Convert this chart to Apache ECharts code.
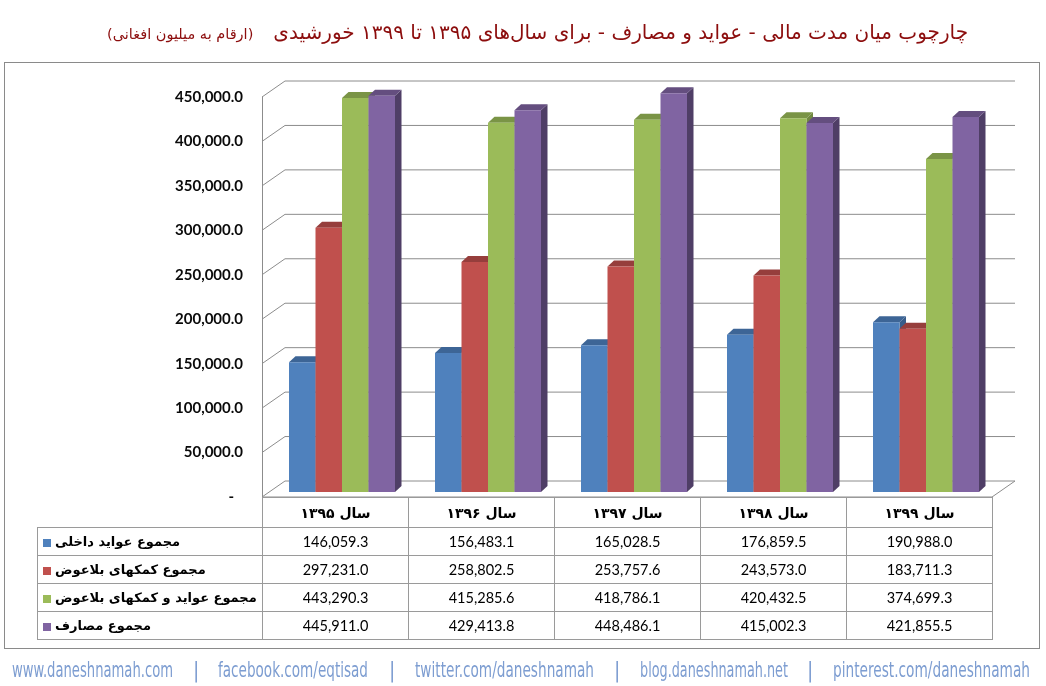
<!DOCTYPE html>
<html><head><meta charset="utf-8">
<script src="https://cdn.jsdelivr.net/npm/echarts@6/dist/echarts.min.js"></script>
<style>
html,body{margin:0;padding:0;background:#fff}
body{width:1046px;height:686px;position:relative;overflow:hidden;font-family:'DejaVu Sans',sans-serif}
#frame{position:absolute;left:4px;top:62px;width:1036px;height:587px;border:1px solid #8a8a8a;box-sizing:border-box}
#chart{position:absolute;left:0;top:0;width:1046px;height:686px}
#title{position:absolute;right:78px;top:14px;direction:rtl;color:#8c0d0d;white-space:nowrap;line-height:36px}
#title .main{font-size:20px}
#title .sub{font-size:14.5px;margin-right:20px}
#tbl{position:absolute;left:37px;top:497px;border-collapse:collapse;table-layout:fixed}
#tbl td{border:1px solid #9a9a9a;padding:0;overflow:hidden;white-space:nowrap}
#tbl td.blank{border:none}
#tbl td.hd{text-align:center;font-weight:bold;font-size:14px;color:#000}
#tbl td.val{text-align:center;font-family:Lato,'Open Sans',sans-serif;font-size:14.5px;color:#000}
#tbl td.lab{font-weight:bold;font-size:13px;color:#000;padding-left:5px}
#tbl .mk{display:inline-block;width:8px;height:8px;margin-right:4px;vertical-align:middle}
#footer span{position:absolute;top:658px;font-family:'Liberation Sans Narrow','DejaVu Sans Condensed','DejaVu Sans',sans-serif;font-size:21px;color:#7d9dd1;white-space:nowrap;transform-origin:0 50%}
</style>
</head><body>
<div id="frame"></div>
<div id="chart"></div>
<div id="title"><span class="main"></span><span class="sub"></span></div>
<table id="tbl"></table>
<div id="footer"></div>
<script>
// ---- data ----
const titleMain = 'چارچوب میان مدت مالی - عواید و مصارف - برای سال‌های ۱۳۹۵ تا ۱۳۹۹ خورشیدی';
const titleSub = '(ارقام به میلیون افغانی)';
const categories = ['سال ۱۳۹۵', 'سال ۱۳۹۶', 'سال ۱۳۹۷', 'سال ۱۳۹۸', 'سال ۱۳۹۹'];
const seriesNames = ['مجموع عواید داخلی', 'مجموع کمکهای بلاعوض', 'مجموع عواید و کمکهای بلاعوض', 'مجموع مصارف'];
const domesticRevenue = [146059.3, 156483.1, 165028.5, 176859.5, 190988.0];
const grants = [297231.0, 258802.5, 253757.6, 243573.0, 183711.3];
const revenueAndGrants = [443290.3, 415285.6, 418786.1, 420432.5, 374699.3];
const expenditure = [445911.0, 429413.8, 448486.1, 415002.3, 421855.5];
const yTicks = [0, 50000, 100000, 150000, 200000, 250000, 300000, 350000, 400000, 450000];
const footerLinks = ['www.daneshnamah.com', 'facebook.com/eqtisad', 'twitter.com/daneshnamah', 'blog.daneshnamah.net', 'pinterest.com/daneshnamah'];

const seriesValues = [domesticRevenue, grants, revenueAndGrants, expenditure];
const colors = [
  {front:'#4F81BD', top:'#3D6596', side:'#385D8A'},
  {front:'#C0504D', top:'#963E3C', side:'#8C3A38'},
  {front:'#9BBB59', top:'#7A9446', side:'#718941'},
  {front:'#8064A2', top:'#644E7F', side:'#4F3E66'}
];

// ---- title ----
document.querySelector('#title .main').textContent = titleMain;
document.querySelector('#title .sub').textContent = titleSub;

// ---- 3D geometry (style constants) ----
const WALL_DX = 23, WALL_DY = -16;     // depth of the back wall
const BAR_OFF_X = 7, BAR_OFF_Y = -5;   // bar front plane inside the depth
const BAR_DX = 6.5, BAR_DY = -6;       // bar thickness
const BAR_FRAC = 26.5 / 146;           // bar width relative to category band
const GRID_COLOR = '#8c8c8c';

const fmt = v => v.toLocaleString('en-US', {minimumFractionDigits: 1, maximumFractionDigits: 1});

function barRenderer(s) {
  return function (params, api) {
    const c = api.value(0), v = api.value(1);
    const pv = api.coord([c, v]);
    const p0 = api.coord([c, 0]);
    const band = api.size([1, 0])[0];
    const w = band * BAR_FRAC;
    const x0 = pv[0] - 2 * w + s * w + BAR_OFF_X;
    const yt = pv[1] + BAR_OFF_Y;
    const yb = p0[1] + BAR_OFF_Y;
    const col = colors[s];
    return {
      type: 'group',
      children: [
        {type: 'polygon', shape: {points: [[x0 + w, yt], [x0 + w + BAR_DX, yt + BAR_DY], [x0 + w + BAR_DX, yb + BAR_DY], [x0 + w, yb]]},
          style: {fill: col.side}},
        {type: 'polygon', shape: {points: [[x0, yt], [x0 + w, yt], [x0 + w + BAR_DX, yt + BAR_DY], [x0 + BAR_DX, yt + BAR_DY]]},
          style: {fill: col.top}},
        {type: 'rect', shape: {x: x0, y: yt, width: w, height: yb - yt},
          style: {fill: col.front}}
      ]
    };
  };
}

function wallRenderer(params, api) {
  const cs = params.coordSys;
  const y = api.coord([0, api.value(1)])[1];
  return {
    type: 'polyline',
    shape: {points: [[cs.x, y], [cs.x + WALL_DX, y + WALL_DY], [cs.x + cs.width + WALL_DX, y + WALL_DY]]},
    style: {stroke: GRID_COLOR, lineWidth: 1, fill: null}
  };
}

function floorRenderer(params, api) {
  const cs = params.coordSys;
  const y = api.coord([0, 0])[1];
  return {
    type: 'polyline',
    shape: {points: [[cs.x, y], [cs.x + cs.width, y], [cs.x + cs.width + WALL_DX, y + WALL_DY]]},
    style: {stroke: GRID_COLOR, lineWidth: 1, fill: null}
  };
}

const chart = echarts.init(document.getElementById('chart'), null, {renderer: 'canvas'});
const series = [
  {type: 'custom', name: 'wall', renderItem: wallRenderer, data: yTicks.map(v => [0, v]), z: 1, silent: true},
  {type: 'custom', name: 'floor', renderItem: floorRenderer, data: [[0, 0]], z: 1, silent: true}
];
seriesValues.forEach((arr, s) => {
  series.push({
    type: 'custom', name: seriesNames[s], z: 2 + s,
    renderItem: barRenderer(s),
    data: arr.map((v, i) => [i, v])
  });
});

chart.setOption({
  animation: false,
  grid: {left: 262, right: 54, top: 97, bottom: 189},
  xAxis: {type: 'category', data: categories, show: false},
  yAxis: {
    type: 'value', min: 0, max: 450000, interval: 50000,
    axisLine: {show: true, lineStyle: {color: GRID_COLOR}},
    axisTick: {show: false},
    splitLine: {show: false},
    axisLabel: {
      margin: 19, color: '#0a0a0a', fontFamily: 'Lato, "Open Sans", sans-serif', fontSize: 15, fontWeight: 'bold',
      formatter: v => v === 0 ? '{z|-}' : fmt(v),
      rich: {z: {padding: [0, 9, 0, 0], fontFamily: 'Lato', fontSize: 15, fontWeight: 'bold', color: '#0a0a0a'}}
    }
  },
  series: series
});

// ---- data table ----
const tbl = document.getElementById('tbl');
const colg = document.createElement('colgroup');
[225, 146, 146, 146, 146, 146].forEach(w => { const c = document.createElement('col'); c.style.width = w + 'px'; colg.appendChild(c); });
tbl.appendChild(colg);
const hr = document.createElement('tr'); hr.style.height = '30px';
const blank = document.createElement('td'); blank.className = 'blank'; hr.appendChild(blank);
categories.forEach(cat => { const td = document.createElement('td'); td.className = 'hd'; td.dir = 'rtl'; td.textContent = cat; hr.appendChild(td); });
tbl.appendChild(hr);
seriesValues.forEach((arr, s) => {
  const tr = document.createElement('tr'); tr.style.height = '28px';
  const lab = document.createElement('td'); lab.className = 'lab';
  const mk = document.createElement('span'); mk.className = 'mk'; mk.style.background = colors[s].front;
  const tx = document.createElement('span'); tx.dir = 'rtl'; tx.textContent = seriesNames[s];
  lab.appendChild(mk); lab.appendChild(tx); tr.appendChild(lab);
  arr.forEach(v => { const td = document.createElement('td'); td.className = 'val'; td.textContent = fmt(v); tr.appendChild(td); });
  tbl.appendChild(tr);
});

// ---- footer ----
const footer = document.getElementById('footer');
const linkBoxes = [[12, 173], [218, 368], [415, 594], [640, 788], [833, 1030]];
const sepX = [196, 392, 617, 810];
footerLinks.forEach((t, i) => {
  const sp = document.createElement('span'); sp.textContent = t; sp.style.left = linkBoxes[i][0] + 'px';
  footer.appendChild(sp);
  const w = sp.getBoundingClientRect().width;
  sp.style.transform = 'scaleX(' + ((linkBoxes[i][1] - linkBoxes[i][0]) / w) + ')';
});
sepX.forEach(x => { const sp = document.createElement('span'); sp.textContent = '|'; sp.style.left = (x - 3) + 'px'; footer.appendChild(sp); });
</script>
</body></html>
